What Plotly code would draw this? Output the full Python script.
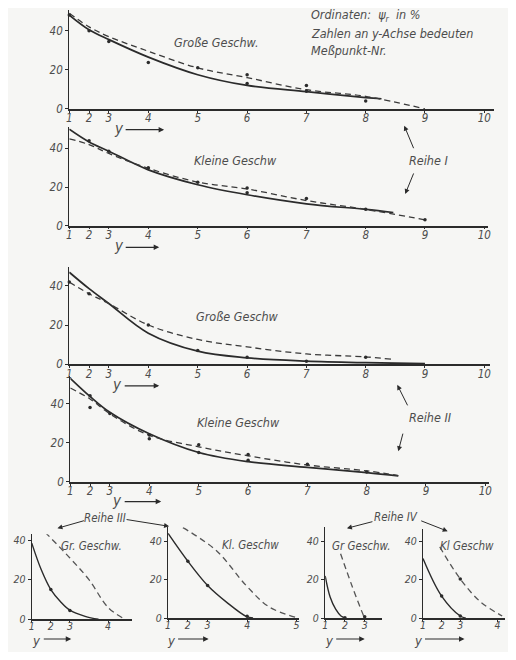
import plotly.graph_objects as go

# The page adds an 8px body margin, so the figure is 16px smaller than the window
OFF = 8
W, H = 516 - 2 * OFF, 660 - 2 * OFF

# ---------------- data ----------------
# Measuring-point positions (distance units) and their labels (Meßpunkt-Nr.)
POS = [0, 1, 2, 4, 6.5, 9, 12, 15, 18, 21]
POS_LABELS = ["1", "2", "3", "4", "5", "6", "7", "8", "9", "10"]
Y_TICKS = [0, 20, 40]

# Reihe I – Große Geschw.
r1g_solid_x = [0, 1, 2, 4, 6.5, 9, 12, 15, 15.8]
r1g_solid_y = [48, 40.5, 35.5, 26.5, 17.5, 12, 8.8, 5.8, 5.2]
r1g_dash_x = [0, 1, 2, 4, 6.5, 9, 12, 15, 18]
r1g_dash_y = [49, 42, 37, 29.5, 21, 16, 9.8, 6.4, 0]
r1g_pts_x = [0, 1, 2, 4, 6.5, 9, 9, 12, 12, 15]
r1g_pts_y = [48, 40, 34.5, 23.8, 21, 17.5, 13, 12, 9, 4]

# Reihe I – Kleine Geschw.
r1k_solid_x = [0, 1, 2, 4, 6.5, 9, 12, 15, 16.4]
r1k_solid_y = [50, 43.4, 38.6, 28.9, 21.2, 16, 11.3, 8.4, 6.8]
r1k_dash_x = [0, 1, 2, 4, 6.5, 9, 12, 15, 18]
r1k_dash_y = [45, 42, 37.4, 29.7, 22.6, 19, 13, 8.4, 3]
r1k_pts_x = [1, 2, 4, 6.5, 9, 9, 12, 15, 18]
r1k_pts_y = [44, 38.5, 30, 22.5, 19.5, 17, 14, 8.5, 3]

# Reihe II – Große Geschw.
r2g_solid_x = [0, 1, 2, 4, 6.5, 9, 12, 15, 18]
r2g_solid_y = [47, 38.6, 31, 15.8, 6.6, 3.2, 1.5, 0.7, 0.2]
r2g_dash_x = [0, 1, 2, 4, 6.5, 9, 12, 15, 16.3]
r2g_dash_y = [42, 36, 31, 20, 12.6, 8.8, 5.2, 3.7, 2.5]
r2g_pts_x = [0, 1, 4, 6.5, 9, 12, 15]
r2g_pts_y = [42, 36, 20, 7, 3.5, 1.5, 3.5]

# Reihe II – Kleine Geschw.
r2k_solid_x = [0, 1, 2, 4, 6.5, 9, 12, 15, 16.6]
r2k_solid_y = [53, 43.7, 35.6, 24.6, 15, 10.3, 7.4, 4.7, 3]
r2k_dash_x = [0, 1, 2, 4, 6.5, 9, 12, 15, 16.6]
r2k_dash_y = [48, 42.4, 34.8, 23.8, 17.9, 13.3, 8.6, 5.6, 3.2]
r2k_pts_x = [1, 1, 2, 4, 4, 6.5, 6.5, 9, 9, 12, 15]
r2k_pts_y = [44, 38, 35, 22, 24, 15, 19, 11, 14, 9, 5]

# Reihe III – Gr. Geschw.
r3g_solid_x = [0, 0.5, 1, 1.5, 2, 2.8, 3.5]
r3g_solid_y = [38.5, 25, 15, 9, 4.6, 1.5, 0]
r3g_dash_x = [0.7, 2, 3, 4, 4.8]
r3g_dash_y = [44, 31, 20, 6, 0.5]
r3g_pts_x = [1, 2]
r3g_pts_y = [15, 4.5]

# Reihe III – Kl. Geschw.
r3k_solid_x = [0, 1, 2, 3, 3.95, 4.3]
r3k_solid_y = [44, 29.6, 17, 8, 1, 0.2]
r3k_dash_x = [0.75, 2.45, 3.95, 5.1, 6.45]
r3k_dash_y = [47, 35, 17, 6, 0.5]
r3k_pts_x = [1, 2, 4]
r3k_pts_y = [29.6, 17, 1]

# Reihe IV – Gr. Geschw.
r4g_solid_x = [0, 0.25, 0.53, 0.8, 1.05]
r4g_solid_y = [22, 11, 4.7, 1.2, 0]
r4g_dash_x = [0.78, 1.35, 1.95, 2.0]
r4g_dash_y = [33.5, 17, 1.2, 0.2]
r4g_pts_x = [1, 2]
r4g_pts_y = [0.3, 0.8]

# Reihe IV – Kl. Geschw.
r4k_solid_x = [0, 1, 2, 2.3]
r4k_solid_y = [31, 11.5, 1.2, 0.1]
r4k_dash_x = [0.9, 2, 3.1, 4.25]
r4k_dash_y = [37, 20.4, 8.4, 1.2]
r4k_pts_x = [1, 2, 2]
r4k_pts_y = [11.5, 1.2, 20.4]

# ---------------- style ----------------
INK = "#2b2b2b"
TXT = "#4d4d4d"
BG = "#f6f6f4"
FONT = "DejaVu Sans Condensed, Liberation Sans Narrow, DejaVu Sans, sans-serif"


def fx(px):
    return (px - OFF) / W


def fy(py):
    return 1 - (py - OFF) / H


fig = go.Figure()

# panel geometry in reference pixels: x0 (y-axis), x1 (end of x axis), y0 (zero line), yt (axis top)
panels = [
    dict(x0=67, x1=497, y0=110, yt=10, ppu=20.0, ppv=1.975, ticks=10,
         s=(r1g_solid_x, r1g_solid_y), d=(r1g_dash_x, r1g_dash_y), p=(r1g_pts_x, r1g_pts_y)),
    dict(x0=67, x1=491, y0=228, yt=128, ppu=20.0, ppv=1.95, ticks=10,
         s=(r1k_solid_x, r1k_solid_y), d=(r1k_dash_x, r1k_dash_y), p=(r1k_pts_x, r1k_pts_y)),
    dict(x0=67, x1=493, y0=368, yt=270, ppu=20.0, ppv=1.975, ticks=10,
         s=(r2g_solid_x, r2g_solid_y), d=(r2g_dash_x, r2g_dash_y), p=(r2g_pts_x, r2g_pts_y)),
    dict(x0=68, x1=492, y0=487, yt=380, ppu=20.0, ppv=1.975, ticks=10,
         s=(r2k_solid_x, r2k_solid_y), d=(r2k_dash_x, r2k_dash_y), p=(r2k_pts_x, r2k_pts_y)),
    dict(x0=29, x1=130, y0=626, yt=540, ppu=19.3, ppv=2.0, ticks=4,
         s=(r3g_solid_x, r3g_solid_y), d=(r3g_dash_x, r3g_dash_y), p=(r3g_pts_x, r3g_pts_y)),
    dict(x0=167, x1=300, y0=625, yt=533, ppu=20.0, ppv=1.95, ticks=5,
         s=(r3k_solid_x, r3k_solid_y), d=(r3k_dash_x, r3k_dash_y), p=(r3k_pts_x, r3k_pts_y)),
    dict(x0=326, x1=383, y0=625, yt=533, ppu=20.0, ppv=1.95, ticks=3,
         s=(r4g_solid_x, r4g_solid_y), d=(r4g_dash_x, r4g_dash_y), p=(r4g_pts_x, r4g_pts_y)),
    dict(x0=425, x1=513, y0=625, yt=535, ppu=20.0, ppv=1.95, ticks=4,
         s=(r4k_solid_x, r4k_solid_y), d=(r4k_dash_x, r4k_dash_y), p=(r4k_pts_x, r4k_pts_y)),
]

layout_axes = {}
for i, pn in enumerate(panels, start=1):
    xs = "" if i == 1 else str(i)
    xname, yname = "x" + xs, "y" + xs
    small = i > 4
    xmax = (pn["x1"] - pn["x0"]) / pn["ppu"]
    ymax = (pn["y0"] - pn["yt"]) / pn["ppv"]
    tickfont = dict(family=FONT, size=10.5 if small else 11.5, color=TXT, style="italic")
    layout_axes["xaxis" + xs] = dict(
        domain=[fx(pn["x0"]), min(1.0, fx(pn["x1"]))], range=[0, xmax], anchor=yname,
        showline=True, linecolor=INK, linewidth=1.6, showgrid=False, zeroline=False,
        ticks="outside", ticklen=2, tickcolor=INK, tickwidth=1,
        ticklabelstandoff=-6 if small else -4,
        tickmode="array", tickvals=POS[:pn["ticks"]], ticktext=POS_LABELS[:pn["ticks"]],
        tickfont=tickfont, fixedrange=True,
    )
    layout_axes["yaxis" + xs] = dict(
        domain=[fy(pn["y0"]), fy(pn["yt"])], range=[0, ymax], anchor=xname,
        showline=True, linecolor=INK, linewidth=1.4, showgrid=False, zeroline=False,
        ticks="outside", ticklen=3, tickcolor=INK, tickwidth=1,
        tickmode="array", tickvals=Y_TICKS, ticktext=[str(v) for v in Y_TICKS],
        tickfont=tickfont, fixedrange=True,
    )
    fig.add_trace(go.Scatter(x=pn["s"][0], y=pn["s"][1], mode="lines", xaxis=xname, yaxis=yname,
                             line=dict(color=INK, width=1.4 if small else 1.7, shape="spline", smoothing=1.0),
                             showlegend=False, hoverinfo="skip"))
    fig.add_trace(go.Scatter(x=pn["d"][0], y=pn["d"][1], mode="lines", xaxis=xname, yaxis=yname,
                             line=dict(color="#3a3a3a" if not small else "#555555", width=1.3,
                                       dash="6px,4px", shape="spline", smoothing=1.0),
                             showlegend=False, hoverinfo="skip"))
    fig.add_trace(go.Scatter(x=pn["p"][0], y=pn["p"][1], mode="markers", xaxis=xname, yaxis=yname,
                             marker=dict(color=INK, size=3.5, symbol="circle"), cliponaxis=False,
                             showlegend=False, hoverinfo="skip"))

annotations = []


def txt(s, x, y, size=12.5, anchor="center"):
    annotations.append(dict(text=s, x=fx(x), y=fy(y), xref="paper", yref="paper",
                            showarrow=False, xanchor=anchor, yanchor="middle",
                            font=dict(family=FONT, size=size, color=TXT, style="italic")))


def arrow(tx, ty, hx, hy, head=2, width=1.0):
    annotations.append(dict(text="", x=fx(hx), y=fy(hy), xref="paper", yref="paper",
                            ax=tx - hx, ay=ty - hy, axref="pixel", ayref="pixel",
                            showarrow=True, arrowhead=head, arrowsize=1, arrowwidth=width,
                            arrowcolor=INK))


# header block
txt("Ordinaten:  ψ<sub>r</sub>  in %", 310, 16, anchor="left")
txt("Zahlen an y-Achse bedeuten", 310, 34, anchor="left")
txt("Meßpunkt-Nr.", 310, 51, anchor="left")

# panel titles
txt("Große Geschw.", 216, 43)
txt("Kleine Geschw", 235, 162)
txt("Große Geschw", 237, 320)
txt("Kleine Geschw", 238, 427)
txt("Gr. Geschw.", 89, 552, size=11.5)
txt("Kl. Geschw", 250, 551, size=11.5)
txt("Gr Geschw.", 363, 552, size=11.5)
txt("Kl Geschw", 470, 552, size=11.5)

# series labels with arrows
txt("Reihe I", 431, 162)
arrow(416, 151, 406, 127)
arrow(416, 174, 407, 196)
txt("Reihe II", 433, 422)
arrow(410, 411, 399, 389)
arrow(405, 437, 400, 456)
txt("Reihe III", 103, 524, size=11.5)
arrow(83, 526, 55, 534)
arrow(124, 525, 168, 532)
txt("Reihe IV", 398, 523, size=11.5)
arrow(375, 527, 348, 534)
arrow(422, 526, 450, 537)

# "y ->" labels
for (yx, yy, ax0, ax1, sz, dy) in [(117, 131, 123, 163, 15, -1), (117, 250, 123, 158, 15, -1),
                                   (115, 390, 122, 158, 15, -1), (115, 507, 122, 160, 15, -1),
                                   (34, 646, 40, 69, 13, 1), (170, 646, 176, 208, 13, 1),
                                   (330, 646, 336, 366, 13, 1), (420, 646, 426, 467, 13, 1)]:
    txt("y", yx, yy + dy, size=sz)
    arrow(ax0, yy, ax1, yy, head=2, width=1.1)

fig.update_layout(
    width=W, height=H, margin=dict(l=0, r=0, t=0, b=0),
    paper_bgcolor=BG, plot_bgcolor="rgba(0,0,0,0)",
    annotations=annotations, **layout_axes,
)

fig.write_html("out.html")
